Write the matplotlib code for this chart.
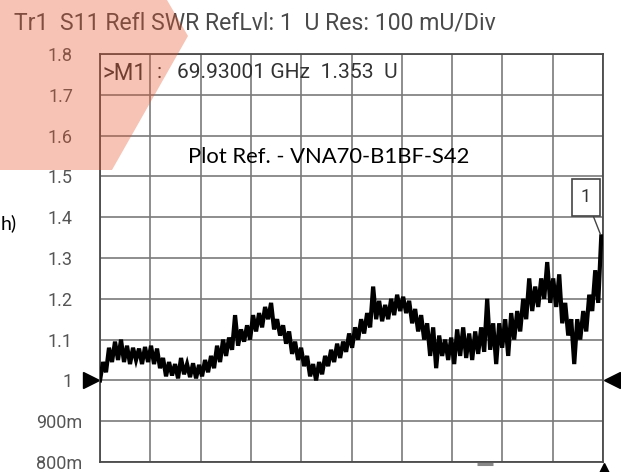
import numpy as np
import matplotlib
matplotlib.use("Agg")
import matplotlib.pyplot as plt
from matplotlib.patches import Polygon
from matplotlib.transforms import ScaledTranslation, blended_transform_factory

# ---------------- data ----------------
title_text = "Tr1  S11 Refl SWR RefLvl: 1  U Res: 100 mU/Div"
marker_label = ">M1"
marker_text = "69.93001 GHz  1.353  U"
marker_freq = 69.93001
marker_value = 1.353
note_text = "Plot Ref. - VNA70-B1BF-S42"

ytick_values = [0.8, 0.9, 1.0, 1.1, 1.2, 1.3, 1.4, 1.5, 1.6, 1.7, 1.8]
ytick_labels = ["800m", "900m", "1", "1.1", "1.2", "1.3", "1.4", "1.5", "1.6", "1.7", "1.8"]
freq_start, freq_stop = 50.0, 70.0
ref_level = 1.0

swr = [
    1.000, 1.045, 1.020, 1.080, 1.045, 1.095, 1.050, 1.100, 1.045, 1.085,
    1.040, 1.080, 1.050, 1.078, 1.040, 1.082, 1.045, 1.085, 1.040, 1.078,
    1.030, 1.055, 1.010, 1.045, 1.012, 1.040, 1.005, 1.055, 1.015, 1.040,
    1.008, 1.042, 1.005, 1.038, 1.010, 1.050, 1.020, 1.060, 1.030, 1.085,
    1.045, 1.100, 1.060, 1.105, 1.075, 1.160, 1.085, 1.125, 1.095, 1.135,
    1.100, 1.160, 1.120, 1.165, 1.130, 1.180, 1.150, 1.190, 1.125, 1.150,
    1.110, 1.135, 1.090, 1.120, 1.065, 1.095, 1.050, 1.080, 1.035, 1.060,
    1.010, 1.040, 1.000, 1.045, 1.015, 1.060, 1.035, 1.075, 1.045, 1.090,
    1.055, 1.095, 1.070, 1.115, 1.080, 1.130, 1.100, 1.150, 1.115, 1.165,
    1.130, 1.230, 1.150, 1.195, 1.145, 1.185, 1.150, 1.200, 1.160, 1.210,
    1.170, 1.205, 1.165, 1.195, 1.140, 1.175, 1.120, 1.160, 1.100, 1.140,
    1.060, 1.130, 1.030, 1.110, 1.060, 1.100, 1.050, 1.105, 1.040, 1.125,
    1.060, 1.130, 1.055, 1.115, 1.050, 1.120, 1.065, 1.130, 1.070, 1.200,
    1.075, 1.140, 1.040, 1.140, 1.080, 1.150, 1.060, 1.165, 1.100, 1.170,
    1.120, 1.200, 1.150, 1.250, 1.170, 1.230, 1.180, 1.250, 1.200, 1.290,
    1.190, 1.250, 1.180, 1.260, 1.140, 1.190, 1.110, 1.150, 1.040, 1.150,
    1.100, 1.170, 1.120, 1.210, 1.170, 1.270, 1.190, 1.353,
]
freq = np.linspace(freq_start, marker_freq, len(swr))

# ---------------- figure ----------------
W, H = 621, 472
fig = plt.figure(figsize=(W / 100, H / 100), dpi=100)
L, R, T, B = 100, 603, 54, 462
ax = fig.add_axes([L / W, 1 - B / H, (R - L) / W, (B - T) / H])

ax.set_xlim(freq_start, freq_stop)
ax.set_ylim(0.8, 1.8)
ax.set_xticks(np.linspace(freq_start, freq_stop, 11))
ax.set_yticks(ytick_values)
ax.set_yticklabels(ytick_labels)
ax.tick_params(axis="x", length=0, labelbottom=False)
ax.tick_params(axis="y", length=0, pad=19.5, labelsize=13, labelcolor="#555555")
for lab in ax.get_yticklabels():
    lab.set_fontfamily("Roboto")
    if lab.get_text().endswith("m"):
        lab.set_transform(lab.get_transform() + ScaledTranslation(9 / 100, 0, fig.dpi_scale_trans))
ax.grid(True, color="#7a7a7a", linewidth=1.2)
ax.set_axisbelow(True)
for s in ax.spines.values():
    s.set_color("#4a4a4a")
    s.set_linewidth(1.3)

ax.plot(freq, swr, color="black", linewidth=3.0, solid_joinstyle="miter", zorder=3)

# reference markers (triangles)
bt = blended_transform_factory(ax.transAxes, ax.transData)
ax.plot([-0.017], [ref_level], marker=">", color="black", markersize=12, clip_on=False, transform=bt)
ax.plot([1.017], [ref_level], marker="<", color="black", markersize=12, clip_on=False, transform=bt)
ax.plot([1.002], [-0.018], marker="^", color="black", markersize=9, clip_on=False, transform=ax.transAxes)
ax.plot([0.75, 0.781], [-0.004, -0.004], color="#888888", linewidth=2.2, clip_on=False,
        transform=ax.transAxes, solid_capstyle="butt")

# marker annotation
ax.annotate("1", xy=(marker_freq, marker_value), xytext=(-11, 28), textcoords="offset points",
            ha="center", va="center", fontsize=13, color="#333333", family="Roboto",
            bbox=dict(boxstyle="square,pad=0.5", fc="white", ec="#444444", lw=1.2),
            arrowprops=dict(arrowstyle="-", color="#444444", lw=1.0, shrinkA=0, shrinkB=2),
            zorder=5)

renderer = fig.canvas.get_renderer()


def fit_text(x, y, s, width_px, **kw):
    t = fig.text(x / W, 1 - y / H, s, **kw)
    ext = t.get_window_extent(renderer=renderer)
    t.set_fontsize(t.get_fontsize() * width_px / ext.width)
    return t


# marker info row
fit_text(103, 73, marker_label, 44, fontsize=13, color="#333333", family="Roboto", va="center")
fig.text(157 / W, 1 - 73 / H, ":", fontsize=15, color="#333333", family="Roboto", va="center")
fit_text(177, 73, marker_text, 220, fontsize=13, color="#333333", family="Roboto", va="center")

fit_text(14, 23, title_text, 483, fontsize=15, color="#4a4a4a", family="Roboto", va="center")
fit_text(188, 163, note_text, 282, fontsize=16, color="black", family="Lato", va="baseline")
fig.text(1 / W, 1 - 229 / H, "h)", fontsize=14, color="black", family="Lato", va="baseline", ha="left")

# translucent salmon overlay
poly_px = [(0, 0), (167, 0), (188, 36), (112, 170), (0, 170)]
poly = Polygon([(px / W, 1 - py / H) for px, py in poly_px], closed=True,
               transform=fig.transFigure, facecolor=(230 / 255, 85 / 255, 45 / 255),
               alpha=0.35, edgecolor="none", zorder=10)
fig.patches.append(poly)

fig.savefig("out.png", dpi=100)
